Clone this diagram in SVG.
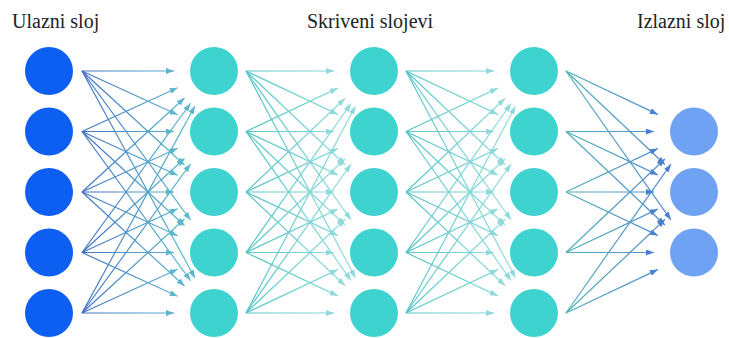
<svg xmlns="http://www.w3.org/2000/svg" width="729" height="338" viewBox="0 0 729 338">
<style>
.lbl{font-family:"Liberation Serif","Times New Roman",serif;font-size:20px;fill:#222}
.in{fill:#0d5ff1}
.hid{fill:#3fd3cf}
.out{fill:#6fa2f3}
.ca line{stroke:url(#gA);stroke-width:1.2;marker-end:url(#mA)}
.cb line{stroke:url(#gB);stroke-width:1.2;marker-end:url(#mB)}
.cc line{stroke:url(#gC);stroke-width:1.2;marker-end:url(#mB)}
.cd line{stroke:url(#gD);stroke-width:1.2;marker-end:url(#mD)}
</style>
<defs>
<linearGradient id="gA" gradientUnits="userSpaceOnUse" x1="82" y1="0" x2="195" y2="0"><stop offset="0" stop-color="#4272c4"/><stop offset="1" stop-color="#62c2cc"/></linearGradient>
<linearGradient id="gB" gradientUnits="userSpaceOnUse" x1="246" y1="0" x2="356" y2="0"><stop offset="0" stop-color="#58c5c7"/><stop offset="1" stop-color="#9adfdf"/></linearGradient>
<linearGradient id="gC" gradientUnits="userSpaceOnUse" x1="406" y1="0" x2="516" y2="0"><stop offset="0" stop-color="#58c5c7"/><stop offset="1" stop-color="#9adfdf"/></linearGradient>
<linearGradient id="gD" gradientUnits="userSpaceOnUse" x1="566" y1="0" x2="671" y2="0"><stop offset="0" stop-color="#52b2b8"/><stop offset="1" stop-color="#5589cf"/></linearGradient>
<marker id="mA" markerUnits="userSpaceOnUse" markerWidth="8" markerHeight="6" refX="8" refY="3" orient="auto"><path d="M0,0 L8,3 L0,6 z" fill="#5cb6cc"/></marker>
<marker id="mB" markerUnits="userSpaceOnUse" markerWidth="8" markerHeight="6" refX="8" refY="3" orient="auto"><path d="M0,0 L8,3 L0,6 z" fill="#8cdada"/></marker>
<marker id="mD" markerUnits="userSpaceOnUse" markerWidth="8" markerHeight="6" refX="8" refY="3" orient="auto"><path d="M0,0 L8,3 L0,6 z" fill="#4b7fd2"/></marker>
</defs>
<rect width="729" height="338" fill="#ffffff"/>
<text class="lbl" x="12" y="28">Ulazni sloj</text>
<text class="lbl" x="307" y="28">Skriveni slojevi</text>
<text class="lbl" x="637" y="28">Izlazni sloj</text>
<g id="connectors">
<g class="ca">
<line x1="82" y1="71" x2="174" y2="71"/>
<line x1="82" y1="71" x2="177.6" y2="114.8"/>
<line x1="82" y1="71" x2="184.5" y2="165"/>
<line x1="82" y1="71" x2="190.5" y2="220.1"/>
<line x1="82" y1="71" x2="194.9" y2="277.9"/>
<line x1="82" y1="131.5" x2="177.6" y2="87.7"/>
<line x1="82" y1="131.5" x2="174" y2="131.5"/>
<line x1="82" y1="131.5" x2="177.6" y2="175.3"/>
<line x1="82" y1="131.5" x2="184.5" y2="225.5"/>
<line x1="82" y1="131.5" x2="190.5" y2="280.6"/>
<line x1="82" y1="192" x2="184.5" y2="98"/>
<line x1="82" y1="192" x2="177.6" y2="148.2"/>
<line x1="82" y1="192" x2="174" y2="192"/>
<line x1="82" y1="192" x2="177.6" y2="235.8"/>
<line x1="82" y1="192" x2="184.5" y2="286"/>
<line x1="82" y1="252.5" x2="190.5" y2="103.4"/>
<line x1="82" y1="252.5" x2="184.5" y2="158.5"/>
<line x1="82" y1="252.5" x2="177.6" y2="208.7"/>
<line x1="82" y1="252.5" x2="174" y2="252.5"/>
<line x1="82" y1="252.5" x2="177.6" y2="296.3"/>
<line x1="82" y1="313" x2="194.9" y2="106.1"/>
<line x1="82" y1="313" x2="190.5" y2="163.9"/>
<line x1="82" y1="313" x2="184.5" y2="219"/>
<line x1="82" y1="313" x2="177.6" y2="269.2"/>
<line x1="82" y1="313" x2="174" y2="313"/>
</g>
<g class="cb">
<line x1="246" y1="71" x2="334" y2="71"/>
<line x1="246" y1="71" x2="337.8" y2="114.4"/>
<line x1="246" y1="71" x2="344.9" y2="164.5"/>
<line x1="246" y1="71" x2="350.9" y2="219.8"/>
<line x1="246" y1="71" x2="355.3" y2="277.6"/>
<line x1="246" y1="131.5" x2="337.8" y2="88.1"/>
<line x1="246" y1="131.5" x2="334" y2="131.5"/>
<line x1="246" y1="131.5" x2="337.8" y2="174.9"/>
<line x1="246" y1="131.5" x2="344.9" y2="225"/>
<line x1="246" y1="131.5" x2="350.9" y2="280.3"/>
<line x1="246" y1="192" x2="344.9" y2="98.5"/>
<line x1="246" y1="192" x2="337.8" y2="148.6"/>
<line x1="246" y1="192" x2="334" y2="192"/>
<line x1="246" y1="192" x2="337.8" y2="235.4"/>
<line x1="246" y1="192" x2="344.9" y2="285.5"/>
<line x1="246" y1="252.5" x2="350.9" y2="103.7"/>
<line x1="246" y1="252.5" x2="344.9" y2="159"/>
<line x1="246" y1="252.5" x2="337.8" y2="209.1"/>
<line x1="246" y1="252.5" x2="334" y2="252.5"/>
<line x1="246" y1="252.5" x2="337.8" y2="295.9"/>
<line x1="246" y1="313" x2="355.3" y2="106.4"/>
<line x1="246" y1="313" x2="350.9" y2="164.2"/>
<line x1="246" y1="313" x2="344.9" y2="219.5"/>
<line x1="246" y1="313" x2="337.8" y2="269.6"/>
<line x1="246" y1="313" x2="334" y2="313"/>
</g>
<g class="cc">
<line x1="406" y1="71" x2="494" y2="71"/>
<line x1="406" y1="71" x2="497.8" y2="114.4"/>
<line x1="406" y1="71" x2="504.9" y2="164.5"/>
<line x1="406" y1="71" x2="510.9" y2="219.8"/>
<line x1="406" y1="71" x2="515.3" y2="277.6"/>
<line x1="406" y1="131.5" x2="497.8" y2="88.1"/>
<line x1="406" y1="131.5" x2="494" y2="131.5"/>
<line x1="406" y1="131.5" x2="497.8" y2="174.9"/>
<line x1="406" y1="131.5" x2="504.9" y2="225"/>
<line x1="406" y1="131.5" x2="510.9" y2="280.3"/>
<line x1="406" y1="192" x2="504.9" y2="98.5"/>
<line x1="406" y1="192" x2="497.8" y2="148.6"/>
<line x1="406" y1="192" x2="494" y2="192"/>
<line x1="406" y1="192" x2="497.8" y2="235.4"/>
<line x1="406" y1="192" x2="504.9" y2="285.5"/>
<line x1="406" y1="252.5" x2="510.9" y2="103.7"/>
<line x1="406" y1="252.5" x2="504.9" y2="159"/>
<line x1="406" y1="252.5" x2="497.8" y2="209.1"/>
<line x1="406" y1="252.5" x2="494" y2="252.5"/>
<line x1="406" y1="252.5" x2="497.8" y2="295.9"/>
<line x1="406" y1="313" x2="515.3" y2="106.4"/>
<line x1="406" y1="313" x2="510.9" y2="164.2"/>
<line x1="406" y1="313" x2="504.9" y2="219.5"/>
<line x1="406" y1="313" x2="497.8" y2="269.6"/>
<line x1="406" y1="313" x2="494" y2="313"/>
</g>
<g class="cd">
<line x1="566" y1="71" x2="657.8" y2="114.4"/>
<line x1="566" y1="71" x2="664.9" y2="164.5"/>
<line x1="566" y1="71" x2="670.9" y2="219.8"/>
<line x1="566" y1="131.5" x2="654" y2="131.5"/>
<line x1="566" y1="131.5" x2="657.8" y2="174.9"/>
<line x1="566" y1="131.5" x2="664.9" y2="225"/>
<line x1="566" y1="192" x2="657.8" y2="148.6"/>
<line x1="566" y1="192" x2="654" y2="192"/>
<line x1="566" y1="192" x2="657.8" y2="235.4"/>
<line x1="566" y1="252.5" x2="664.9" y2="159"/>
<line x1="566" y1="252.5" x2="657.8" y2="209.1"/>
<line x1="566" y1="252.5" x2="654" y2="252.5"/>
<line x1="566" y1="313" x2="670.9" y2="164.2"/>
<line x1="566" y1="313" x2="664.9" y2="219.5"/>
<line x1="566" y1="313" x2="657.8" y2="269.6"/>
</g>
</g>
<g id="input-1"><circle class="in" cx="49" cy="71" r="24"/></g>
<g id="input-2"><circle class="in" cx="49" cy="131.5" r="24"/></g>
<g id="input-3"><circle class="in" cx="49" cy="192" r="24"/></g>
<g id="input-4"><circle class="in" cx="49" cy="252.5" r="24"/></g>
<g id="input-5"><circle class="in" cx="49" cy="313" r="24"/></g>
<g id="hidden1-1"><circle class="hid" cx="214" cy="71" r="24"/></g>
<g id="hidden1-2"><circle class="hid" cx="214" cy="131.5" r="24"/></g>
<g id="hidden1-3"><circle class="hid" cx="214" cy="192" r="24"/></g>
<g id="hidden1-4"><circle class="hid" cx="214" cy="252.5" r="24"/></g>
<g id="hidden1-5"><circle class="hid" cx="214" cy="313" r="24"/></g>
<g id="hidden2-1"><circle class="hid" cx="374" cy="71" r="24"/></g>
<g id="hidden2-2"><circle class="hid" cx="374" cy="131.5" r="24"/></g>
<g id="hidden2-3"><circle class="hid" cx="374" cy="192" r="24"/></g>
<g id="hidden2-4"><circle class="hid" cx="374" cy="252.5" r="24"/></g>
<g id="hidden2-5"><circle class="hid" cx="374" cy="313" r="24"/></g>
<g id="hidden3-1"><circle class="hid" cx="534" cy="71" r="24"/></g>
<g id="hidden3-2"><circle class="hid" cx="534" cy="131.5" r="24"/></g>
<g id="hidden3-3"><circle class="hid" cx="534" cy="192" r="24"/></g>
<g id="hidden3-4"><circle class="hid" cx="534" cy="252.5" r="24"/></g>
<g id="hidden3-5"><circle class="hid" cx="534" cy="313" r="24"/></g>
<g id="output-1"><circle class="out" cx="694" cy="131.5" r="24"/></g>
<g id="output-2"><circle class="out" cx="694" cy="192" r="24"/></g>
<g id="output-3"><circle class="out" cx="694" cy="252.5" r="24"/></g>
</svg>
